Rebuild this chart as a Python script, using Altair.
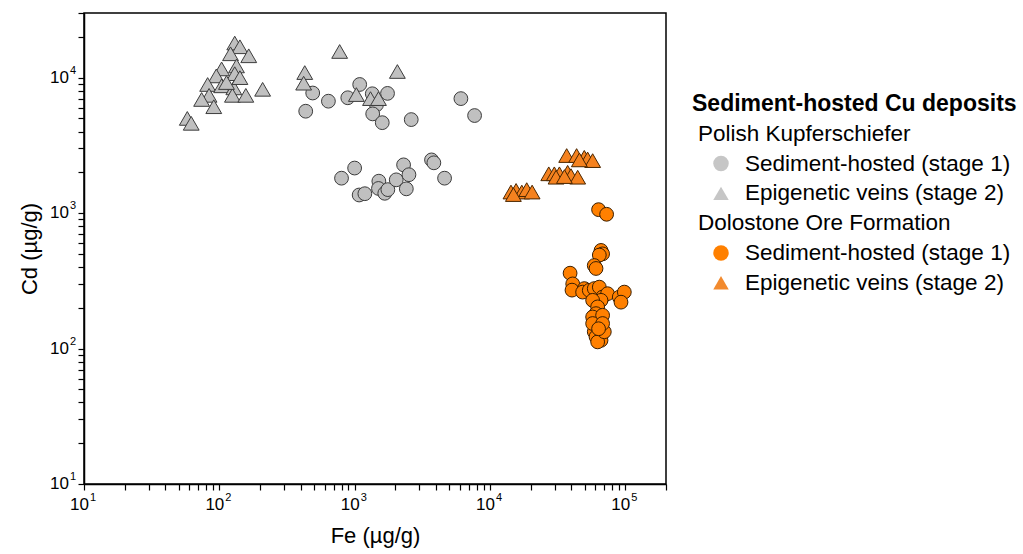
import altair as alt
import pandas as pd

FONT = "Liberation Sans"

# Polish Kupferschiefer – sediment-hosted sulfides (stage 1), Fe and Cd in µg/g
pk_sed_fe = [1090, 490, 640, 435, 890, 1350, 1750, 1450, 1360, 1600, 2620, 6100, 7700,
             800, 1000, 1080, 1190, 1510, 1500, 1670, 1760, 2030, 2300, 2520, 2410, 3700, 3850, 4620]
pk_sed_cd = [8900, 7700, 6700, 5650, 7100, 7600, 7650, 6300, 5400, 4650, 4900, 7000, 5250,
             1810, 2150, 1360, 1390, 1720, 1520, 1400, 1490, 1760, 2270, 1920, 1510, 2470, 2350, 1810]

# Polish Kupferschiefer – epigenetic veins (stage 2)
pk_vein_fe = [130, 142, 121, 165, 104, 134, 95, 130, 82, 104, 128, 209, 84, 125, 157, 74, 91,
              58, 62, 113, 142, 775, 428, 420, 2070, 1030, 1310, 1500]
pk_vein_cd = [18000, 16900, 15000, 14500, 11600, 12200, 10300, 10700, 8900, 8700, 8400, 8200,
              7400, 7400, 7400, 6900, 6100, 5000, 4600, 9200, 10000, 15600, 10900, 9100, 11100,
              7500, 7000, 7000]

# Dolostone Ore Formation – sediment-hosted sulfides (stage 1)
dof_sed_fe = [63500, 72800, 66200, 68000, 64300, 59000, 60800, 39100, 40900, 40400, 49800, 48400,
              54200, 59000, 64300, 68000, 74000, 66200, 57400, 90300, 98400, 93000, 62500, 60800,
              64300, 57400, 68000, 60800, 59000, 64300, 60800, 66200, 62500, 70000, 57400, 68000, 63500]
dof_sed_cd = [1060, 980, 530, 500, 490, 410, 390, 360, 300, 270, 277, 261,
              269, 277, 284, 240, 254, 227, 227, 240, 261, 220, 203, 181,
              166, 171, 176, 144, 133, 129, 122, 115, 112, 133, 153, 153, 140]

# Dolostone Ore Formation – epigenetic veins (stage 2)
dof_vein_fe = [14300, 15600, 17200, 18700, 20500, 14900, 27200, 29900, 32600, 37500, 39700,
               44500, 30800, 35500, 36900, 43700, 49800, 52700, 57400, 45800]
dof_vein_cd = [1430, 1470, 1430, 1490, 1430, 1370, 1950, 1950, 1950, 2000, 1890,
               1840, 1840, 1860, 2660, 2660, 2580, 2510, 2440, 2470]

# Legend entries: (text, kind, shape, colour)
legend_rows = [
    ("Sediment-hosted Cu deposits", "title", None, None),
    ("Polish Kupferschiefer", "group", None, None),
    ("Sediment-hosted (stage 1)", "item", "circle", "#c6c6c6"),
    ("Epigenetic veins (stage 2)", "item", "triangle-up", "#c6c6c6"),
    ("Dolostone Ore Formation", "group", None, None),
    ("Sediment-hosted (stage 1)", "item", "circle", "#ff8000"),
    ("Epigenetic veins (stage 2)", "item", "triangle-up", "#f28a2e"),
]

# decade labels of both log axes, written as 10 with a raised exponent
x_decades = [1, 2, 3, 4, 5]
y_decades = [1, 2, 3, 4]

# log-axis tick positions: every integer multiple of a power of ten
all_ticks = [m * 10 ** e for e in range(1, 6) for m in range(1, 10)]
x_ticks = [v for v in all_ticks if v <= 200000] + [200000]
y_ticks = [v for v in all_ticks if v <= 30000]

W, H = 582, 471
x_scale = alt.Scale(type="log", domain=[10, 200000], nice=False)
y_scale = alt.Scale(type="log", domain=[10, 30000], nice=False)

x_enc = alt.X("fe:Q", scale=x_scale,
              axis=alt.Axis(title="Fe (µg/g)", values=x_ticks, labels=False,
                            grid=False, tickSize=6, titlePadding=35))
y_enc = alt.Y("cd:Q", scale=y_scale,
              axis=alt.Axis(title="Cd (µg/g)", values=y_ticks, labels=False,
                            grid=False, tickSize=6, titlePadding=36))


def series(fe, cd, shape, fill, stroke, size):
    df = pd.DataFrame({"fe": fe, "cd": cd})
    return alt.Chart(df).mark_point(
        shape=shape, filled=True, fill=fill, stroke=stroke, strokeWidth=1,
        size=size, opacity=1, fillOpacity=1, strokeOpacity=1
    ).encode(x=x_enc, y=y_enc)


pk_sed = series(pk_sed_fe, pk_sed_cd, "circle", "#c0c0c0", "#3c3c3c", 190)
pk_vein = series(pk_vein_fe, pk_vein_cd, "triangle-up", "#c0c0c0", "#3c3c3c", 250)
dof_vein = series(dof_vein_fe, dof_vein_cd, "triangle-up", "#f5821f", "#4a2600", 250)
dof_sed = series(dof_sed_fe, dof_sed_cd, "circle", "#ff8000", "#3a1e00", 190)

# tick labels
xl = pd.DataFrame({"fe": [10.0 ** d for d in x_decades], "exp": [str(d) for d in x_decades]})
yl = pd.DataFrame({"cd": [10.0 ** d for d in y_decades], "exp": [str(d) for d in y_decades]})

x_base = alt.Chart(xl).mark_text(
    align="right", baseline="middle", font=FONT, fontSize=17, color="black", dx=5
).encode(x=alt.X("fe:Q", scale=x_scale), y=alt.value(H + 21), text=alt.value("10"))
x_exp = alt.Chart(xl).mark_text(
    align="left", baseline="middle", font=FONT, fontSize=11, color="black", dx=6
).encode(x=alt.X("fe:Q", scale=x_scale), y=alt.value(H + 14), text="exp:N")

y_base = alt.Chart(yl).mark_text(
    align="right", baseline="middle", font=FONT, fontSize=17, color="black"
).encode(y=alt.Y("cd:Q", scale=y_scale), x=alt.value(-15), text=alt.value("10"))
y_exp = alt.Chart(yl).mark_text(
    align="left", baseline="middle", font=FONT, fontSize=11, color="black", dy=-7
).encode(y=alt.Y("cd:Q", scale=y_scale), x=alt.value(-14), text="exp:N")

# legend drawn beside the plot, one row per entry
leg = pd.DataFrame(legend_rows, columns=["text", "kind", "shape", "color"])
leg["row_y"] = 91 + leg.index * 29.8
leg["text_x"] = leg["kind"].map({"title": 608, "group": 614, "item": 661})
leg["sym_x"] = 637

leg_title = alt.Chart(leg[leg.kind == "title"]).mark_text(
    align="left", baseline="middle", font=FONT, fontSize=23, fontWeight="bold", color="black"
).encode(x=alt.X("text_x:Q", scale=None), y=alt.Y("row_y:Q", scale=None), text="text:N")

leg_text = alt.Chart(leg[leg.kind != "title"]).mark_text(
    align="left", baseline="middle", font=FONT, fontSize=22.5, color="black"
).encode(x=alt.X("text_x:Q", scale=None), y=alt.Y("row_y:Q", scale=None), text="text:N")

leg_sym = alt.Chart(leg[leg.kind == "item"]).mark_point(
    filled=True, size=240, opacity=1, strokeWidth=0
).encode(
    x=alt.X("sym_x:Q", scale=None),
    y=alt.Y("row_y:Q", scale=None),
    shape=alt.Shape("shape:N", scale=None),
    color=alt.Color("color:N", scale=None),
)

chart = alt.layer(
    pk_sed, pk_vein, dof_vein, dof_sed,
    x_base, x_exp, y_base, y_exp,
    leg_sym, leg_title, leg_text,
).properties(
    width=W, height=H,
    autosize=alt.AutoSizeParams(type="none"),
    padding={"left": 84, "top": 13, "right": 1023 - 84 - W, "bottom": 554 - 13 - H},
    background="white",
).configure_view(
    stroke="black", strokeWidth=1.5
).configure_axis(
    titleFont=FONT, titleFontSize=22, titleFontWeight="normal", titleColor="black",
    domainColor="black", domainWidth=1.5, tickColor="black", tickWidth=1.2,
)

chart.save("out.html", embed_options={"renderer": "svg", "actions": False})
